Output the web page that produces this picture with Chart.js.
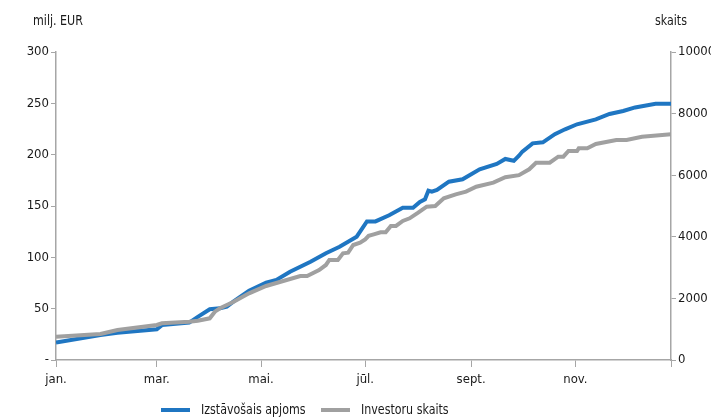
<!DOCTYPE html>
<html>
<head>
<meta charset="utf-8">
<script src="https://cdn.jsdelivr.net/npm/chart.js@4"></script>
<style>
  body { margin: 0; background: #fff; }
  #wrap { width: 711px; height: 417px; }
</style>
</head>
<body>
<div id="wrap"><canvas id="grafiks" width="711" height="417"></canvas></div>
<script>
// Dati (dienas no gada sākuma)
const apjomsDays = [0, 26, 36, 59, 62, 78, 83, 90, 96, 100, 104, 113, 123, 129, 137, 149, 158, 166, 176, 178,
  182, 187, 195, 203, 209, 213, 216, 218, 220, 223, 230, 238, 248, 258, 263, 268, 271, 273, 279, 285,
  292, 298, 305, 316, 324, 332, 339, 351, 360];
const apjomsValues = [17, 24.4, 26.6, 30, 34, 36.4, 42, 49.4, 50.3, 52, 57, 67.5, 75.3, 78, 86, 95.7, 104, 110.3, 120.1, 125,
  135, 135, 141, 148.3, 148.3, 154, 156.5, 165, 164, 165.6, 173.7, 176, 185.7, 191, 195.8, 194, 199, 203, 211, 212,
  220, 224.7, 229.6, 234.4, 239.6, 242.5, 246, 249.6, 249.6];

const investoriDays = [0, 26, 36, 59, 62, 78, 83, 90, 93, 96, 104, 113, 123, 133, 143, 147, 154, 158, 160, 165,
  168, 171, 174, 178, 181, 183, 186, 190, 193, 196, 199, 203, 207, 212, 217, 222, 227, 234, 240, 246,
  256, 263, 271, 277, 281, 289, 294, 297, 300, 305, 306, 311, 316, 328, 334, 343, 360];
const investoriValues = [757, 844, 974, 1136, 1190, 1245, 1277, 1353, 1568, 1678, 1893, 2165, 2403, 2565, 2727, 2727, 2922, 3085, 3247, 3247,
  3463, 3485, 3734, 3809, 3918, 4030, 4080, 4145, 4145, 4351, 4351, 4513, 4600, 4783, 4978, 5000, 5250, 5380, 5466, 5627,
  5757, 5932, 6000, 6192, 6406, 6406, 6601, 6601, 6786, 6786, 6873, 6873, 7014, 7144, 7144, 7250, 7328];

const monthTickDays = [0, 59, 120, 181, 243, 304, 360];
const monthTickLabels = ['jan.', 'mar.', 'mai.', 'jūl.', 'sept.', 'nov.', ''];

const seriesLabels = ['Izstāvošais apjoms', 'Investoru skaits'];
const leftTitle = 'milj. EUR';
const rightTitle = 'skaits';

const FONT = "'Liberation Sans Narrow', 'DejaVu Sans Condensed', 'Roboto Condensed', 'Noto Sans', sans-serif";
const BLUE = '#1f76c2';
const GREY = '#a0a0a0';
const AXIS = '#a6a6a6';

Chart.defaults.font.family = FONT;
Chart.defaults.font.size = 13;
Chart.defaults.color = '#1a1a1a';

// Virsraksti un leģenda zīmēti pašu rokām (nedaudz saspiesti, lai līdzinātos šaurajam fontam)
const tekstiPlugin = {
  id: 'teksti',
  afterDraw(chart) {
    const c = chart.ctx;
    const squeeze = 0.88;
    const txt = (s, x, y) => {
      c.save();
      c.translate(x, y);
      c.scale(squeeze, 1);
      c.fillText(s, 0, 0);
      c.restore();
    };
    c.save();
    c.font = '14px ' + FONT;
    c.fillStyle = '#1a1a1a';
    c.textBaseline = 'alphabetic';
    c.textAlign = 'left';
    txt(leftTitle, 33, 25);
    txt(rightTitle, 655, 25);

    const items = [
      { x: 161, color: BLUE, text: seriesLabels[0] },
      { x: 321, color: GREY, text: seriesLabels[1] }
    ];
    items.forEach(it => {
      c.fillStyle = it.color;
      c.fillRect(it.x, 408, 29, 4);
      c.fillStyle = '#1a1a1a';
      txt(it.text, it.x + 40, 414);
    });
    c.restore();
  }
};

const config = {
  type: 'line',
  data: {
    datasets: [{
      label: seriesLabels[0],
      data: apjomsDays.map((d, i) => ({ x: d, y: apjomsValues[i] })),
      borderColor: BLUE,
      backgroundColor: BLUE,
      borderWidth: 4,
      pointRadius: 0,
      yAxisID: 'y',
      order: 1
    }, {
      label: seriesLabels[1],
      data: investoriDays.map((d, i) => ({ x: d, y: investoriValues[i] })),
      borderColor: GREY,
      backgroundColor: GREY,
      borderWidth: 4,
      pointRadius: 0,
      yAxisID: 'y1',
      order: 0
    }]
  },
  options: {
    responsive: false,
    animation: false,
    layout: { padding: { top: 52, bottom: 30, left: 0, right: 0 } },
    plugins: {
      legend: { display: false },
      tooltip: { enabled: false }
    },
    scales: {
      x: {
        type: 'linear',
        min: 0,
        max: 360,
        afterBuildTicks: s => { s.ticks = monthTickDays.map(v => ({ value: v })); },
        afterFit: s => { s.height = 27; },
        ticks: {
          autoSkip: false,
          maxRotation: 0,
          padding: 5,
          callback: v => monthTickLabels[monthTickDays.indexOf(v)]
        },
        grid: { drawOnChartArea: false, color: AXIS, tickLength: 7 },
        border: { color: AXIS, width: 1.5 }
      },
      y: {
        position: 'left',
        min: 0,
        max: 300,
        afterFit: s => { s.width = 56; },
        ticks: {
          stepSize: 50,
          padding: 2,
          callback: v => v === 0 ? '-' : String(v)
        },
        grid: { drawOnChartArea: false, color: AXIS, tickLength: 5 },
        border: { color: AXIS, width: 1.5 }
      },
      y1: {
        position: 'right',
        min: 0,
        max: 10000,
        afterFit: s => { s.width = 40; },
        ticks: { stepSize: 2000, padding: 2, callback: v => String(v) },
        grid: { drawOnChartArea: false, color: AXIS, tickLength: 5 },
        border: { color: AXIS, width: 1.5 }
      }
    }
  },
  plugins: [tekstiPlugin]
};

new Chart(document.getElementById('grafiks'), config);
</script>
</body>
</html>
